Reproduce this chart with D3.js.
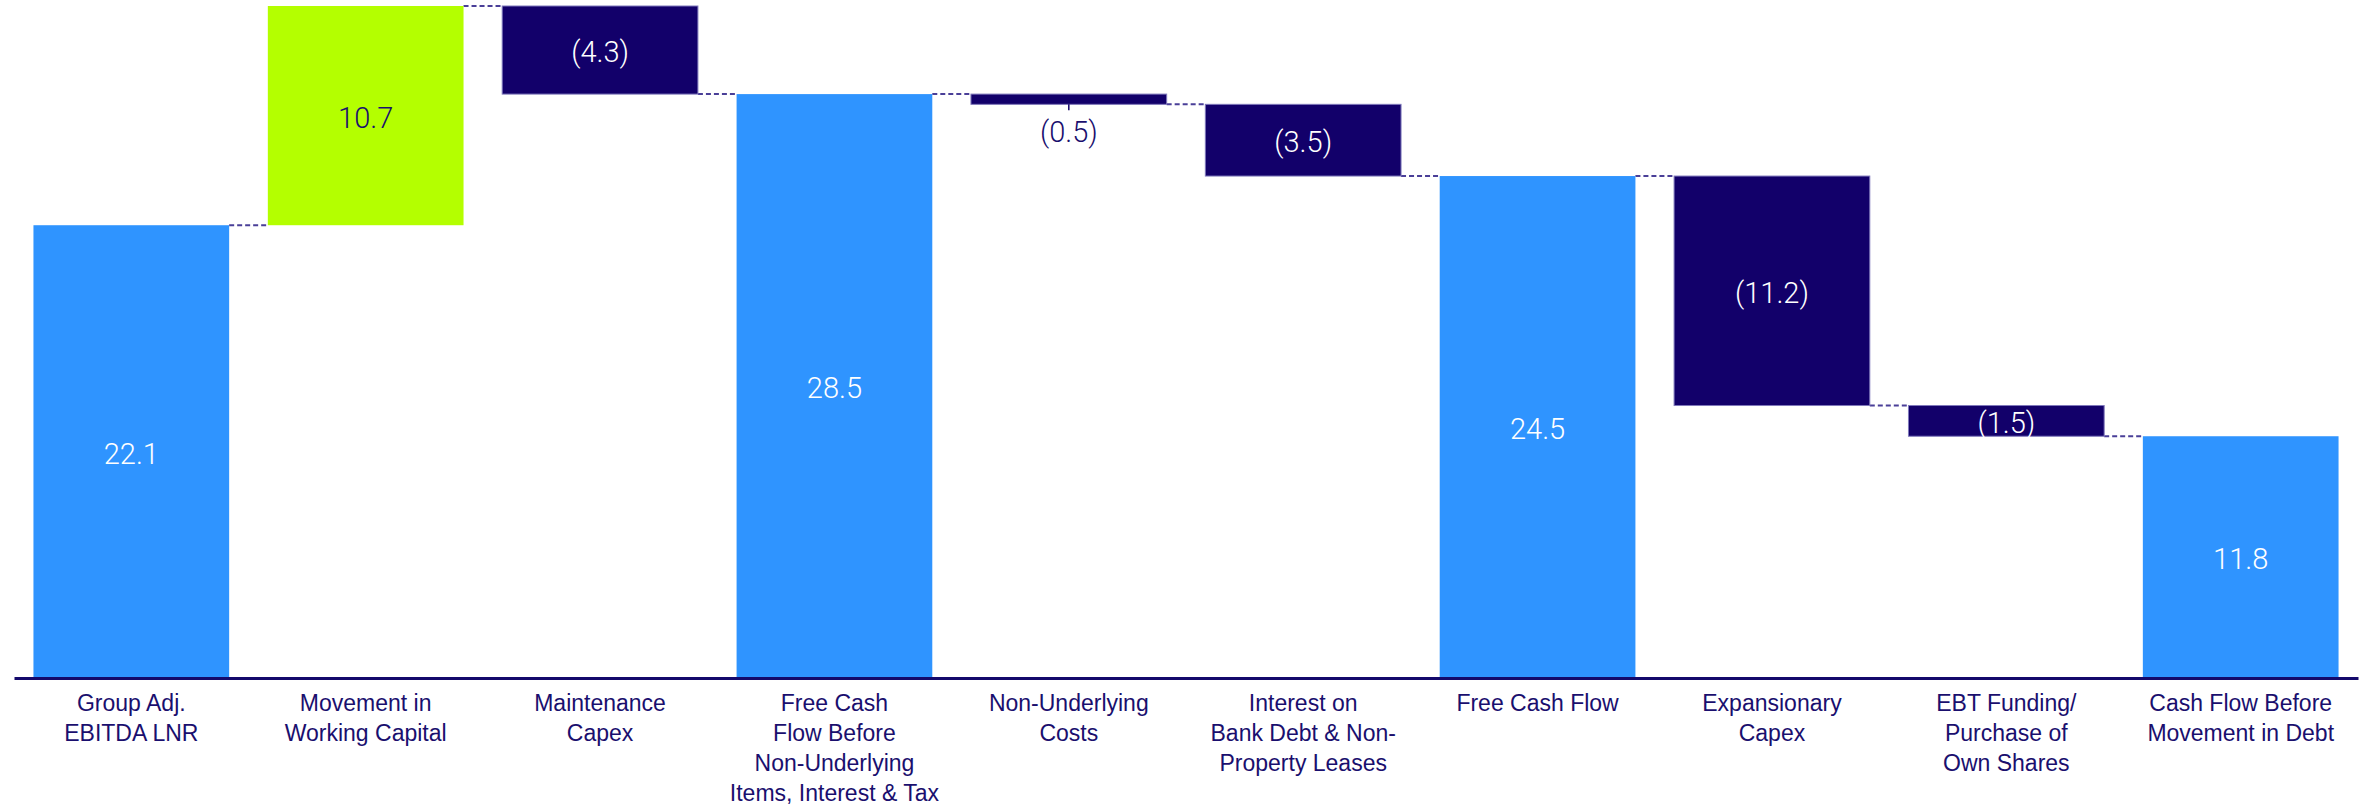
<!DOCTYPE html>
<html>
<head>
	<meta charset="utf-8">
	<title></title>
	<style>
		body { margin: 0; background: #fff; }
		svg { display: block; font-family: Roboto, "Open Sans", sans-serif; }
		.connector { stroke: #4a3f98; stroke-width: 2; stroke-dasharray: 5,3; fill: none; }
		.axis path { stroke: #14096b; stroke-width: 3; }
		.axis text { fill: #1a0f6e; font-size: 23px; font-weight: 300; }
	</style>
</head>
<body>
	<svg id="container" width="2369" height="807"></svg>
	<script src="https://d3js.org/d3.v7.min.js"></script>
	<script>
		// category labels, one entry per line
		const categories = [
			["Group Adj.", "EBITDA LNR"],
			["Movement in", "Working Capital"],
			["Maintenance", "Capex"],
			["Free Cash", "Flow Before", "Non-Underlying", "Items, Interest & Tax"],
			["Non-Underlying", "Costs"],
			["Interest on", "Bank Debt & Non-", "Property Leases"],
			["Free Cash Flow"],
			["Expansionary", "Capex"],
			["EBT Funding/", "Purchase of", "Own Shares"],
			["Cash Flow Before", "Movement in Debt"]
		]
		const values = [22.1, 10.7, -4.3, 28.5, -0.5, -3.5, 24.5, -11.2, -1.5, 11.8]
		// total = bar from zero, step = floating change
		const kinds = ["total", "step", "step", "total", "step", "step", "total", "step", "step", "total"]
		const valueLabels = ["22.1", "10.7", "(4.3)", "28.5", "(0.5)", "(3.5)", "24.5", "(11.2)", "(1.5)", "11.8"]

		const blue = "#2f94ff", lime = "#b4ff00", navy = "#12006a", textNavy = "#1a0f6e"

		let svg = d3.select("#container")

		// build waterfall rows
		let running = 0
		let rows = values.map((v, i) => {
			let start, end
			if (kinds[i] == "total") { start = 0; end = v; running = v }
			else { start = running; end = running + v; running = end }
			return { key: i, value: v, start: start, end: end, kind: kinds[i], label: valueLabels[i] }
		})

		let x = d3.scaleBand()
			.domain(rows.map(d => d.key))
			.range([14, 2358])
			.paddingInner(0.165)
			.paddingOuter(0.083)

		let y = d3.scaleLinear()
			.domain([0, 32.8])
			.range([678, 6])

		// dashed connectors between neighbouring bars
		svg.selectAll(".connector")
			.data(rows.slice(0, -1))
			.enter()
			.append("line")
			.attr("class", "connector")
			.attr("x1", d => x(d.key) + x.bandwidth())
			.attr("x2", d => x(d.key + 1))
			.attr("y1", d => y(d.end))
			.attr("y2", d => y(d.end))

		let colorOf = d => d.kind == "total" ? blue : (d.value > 0 ? lime : navy)

		svg.selectAll(".bar")
			.data(rows)
			.enter()
			.append("rect")
			.attr("class", "bar")
			.attr("x", d => x(d.key))
			.attr("width", x.bandwidth())
			.attr("y", d => y(Math.max(d.start, d.end)))
			.attr("height", d => Math.abs(y(d.start) - y(d.end)))
			.attr("fill", colorOf)
			.attr("stroke", d => d.kind == "step" && d.value < 0 ? "#7f78bb" : "none")
			.attr("stroke-width", 1)

		// value labels
		let thin = d => Math.abs(y(d.start) - y(d.end)) < 20
		svg.selectAll(".val")
			.data(rows)
			.enter()
			.append("text")
			.attr("class", "val")
			.attr("x", d => x(d.key) + x.bandwidth() / 2)
			.attr("y", d => thin(d)
				? y(Math.min(d.start, d.end)) + 28
				: (y(d.start) + y(d.end)) / 2 + 2)
			.attr("text-anchor", "middle")
			.attr("dominant-baseline", "central")
			.attr("font-size", 29)
			.attr("font-weight", 300)
			.attr("fill", d => thin(d) || colorOf(d) == lime ? textNavy : "#fff")
			.text(d => d.label)

		// little leader for labels placed under thin bars
		svg.selectAll(".leader")
			.data(rows.filter(thin))
			.enter()
			.append("line")
			.attr("x1", d => x(d.key) + x.bandwidth() / 2)
			.attr("x2", d => x(d.key) + x.bandwidth() / 2)
			.attr("y1", d => y(Math.min(d.start, d.end)))
			.attr("y2", d => y(Math.min(d.start, d.end)) + 6)
			.attr("stroke", navy)
			.attr("stroke-width", 1.5)

		// x axis with multi-line category labels
		let axis = svg.append("g")
			.attr("class", "axis")
			.attr("transform", "translate(0,678)")
			.call(d3.axisBottom(x).tickSize(0).tickSizeOuter(0).tickFormat(""))

		axis.selectAll(".tick text").remove()
		axis.selectAll(".tick")
			.append("text")
			.attr("text-anchor", "middle")
			.each(function(d) {
				let t = d3.select(this)
				categories[d].forEach((line, j) => {
					t.append("tspan")
						.attr("x", 0)
						.attr("y", 33 + j * 30)
						.text(line)
				})
			})
	</script>
</body>
</html>
